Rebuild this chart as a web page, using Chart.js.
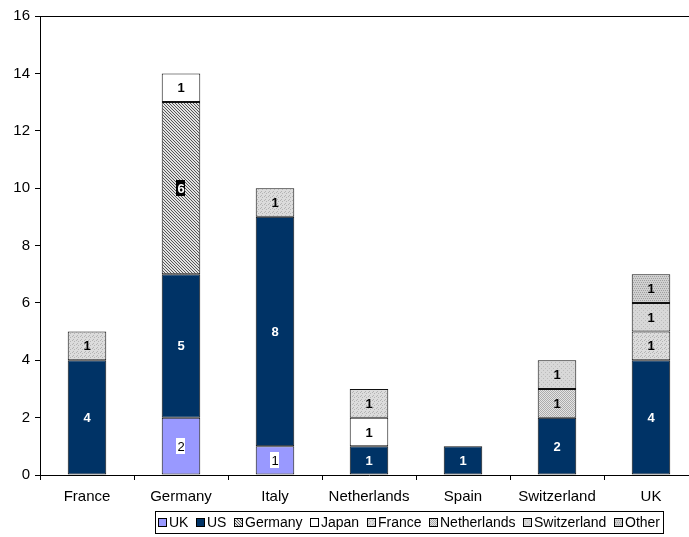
<!DOCTYPE html>
<html>
<head>
<meta charset="utf-8">
<script src="https://cdn.jsdelivr.net/npm/chart.js@4/dist/chart.umd.min.js"></script>
<style>
  html, body { margin: 0; padding: 0; background: #fff; overflow: hidden; }
  #wrap { width: 700px; height: 537px; }
</style>
</head>
<body>
<div id="wrap"><canvas id="c" width="700" height="537"></canvas></div>
<script>
// Deal counts by target country, stacked by acquirer country
const categories = ['France', 'Germany', 'Italy', 'Netherlands', 'Spain', 'Switzerland', 'UK'];
const seriesNames = ['UK', 'US', 'Germany', 'Japan', 'France', 'Netherlands', 'Switzerland', 'Other'];
const ukValues          = [null, 2, 1, null, null, null, null];
const usValues          = [4, 5, 8, 1, 1, 2, 4];
const germanyValues     = [null, 6, null, null, null, null, null];
const japanValues       = [null, 1, null, 1, null, null, null];
const franceValues      = [1, null, 1, 1, null, null, 1];
const netherlandsValues = [null, null, null, null, null, 1, null];
const switzerlandValues = [null, null, null, null, null, 1, 1];
const otherValues       = [null, null, null, null, null, null, 1];
const yTicks = [0, 2, 4, 6, 8, 10, 12, 14, 16];

const FONT = '"Liberation Sans", Arial, sans-serif';
const canvas = document.getElementById('c');
const ctx = canvas.getContext('2d');

// small repeating tile fills
function tile(size, bg, fg, pts) {
  const t = document.createElement('canvas');
  t.width = size; t.height = size;
  const g = t.getContext('2d');
  g.fillStyle = bg; g.fillRect(0, 0, size, size);
  g.fillStyle = fg;
  pts.forEach(p => g.fillRect(p[0], p[1], 1, 1));
  return ctx.createPattern(t, 'repeat');
}
const fills = {
  UK: '#9999ff',
  US: '#003366',
  Germany: tile(3, '#e2e2e2', '#555555', [[0,0],[1,1],[2,2]]),
  Japan: '#ffffff',
  France: tile(4, '#dcdcdc', '#b4b4b4', [[0,0],[2,1],[1,3]]),
  Netherlands: tile(2, '#e4e4e4', '#acacac', [[0,0],[1,1]]),
  Switzerland: tile(4, '#d8d8d8', '#bcbcbc', [[1,0],[3,2]]),
  Other: tile(4, '#d0d0d0', '#a0a0a0', [[0,0],[2,0],[1,2],[3,2]])
};
const valueLists = [ukValues, usValues, germanyValues, japanValues, franceValues,
                    netherlandsValues, switzerlandValues, otherValues];

// label look per series
const labelStyle = {
  UK: { color: '#000', weight: 'normal', bg: '#fff' },
  US: { color: '#fff', weight: 'bold' },
  Germany: { color: '#fff', weight: 'bold', bg: '#000' },
  Japan: { color: '#000', weight: 'bold' },
  France: { color: '#000', weight: 'bold' },
  Netherlands: { color: '#000', weight: 'bold' },
  Switzerland: { color: '#000', weight: 'bold' },
  Other: { color: '#000', weight: 'bold' }
};

const datasets = seriesNames.map((name, i) => ({
  label: name,
  data: valueLists[i],
  backgroundColor: fills[name],
  borderColor: '#111111',
  borderWidth: 1,
  borderSkipped: false,
  categoryPercentage: 1.0,
  barPercentage: 0.41
}));

const segmentLabels = {
  id: 'segmentLabels',
  afterDatasetsDraw(chart) {
    const c = chart.ctx;
    chart.data.datasets.forEach((ds, i) => {
      const st = labelStyle[ds.label];
      chart.getDatasetMeta(i).data.forEach((bar, j) => {
        const v = ds.data[j];
        if (v === null || v === undefined) return;
        const p = bar.getCenterPoint();
        c.save();
        c.font = st.weight + ' 13px ' + FONT;
        c.textAlign = 'center';
        c.textBaseline = 'middle';
        const txt = String(v);
        const w = c.measureText(txt).width;
        if (st.bg) {
          c.fillStyle = st.bg;
          c.fillRect(Math.round(p.x - w / 2 - 1), Math.round(p.y - 8), Math.round(w + 2), 16);
        }
        c.fillStyle = st.color;
        c.fillText(txt, p.x, p.y + 1);
        c.restore();
      });
    });
  }
};

// frame line on top, and the boxed legend under the axis labels
const frameAndLegend = {
  id: 'frameAndLegend',
  afterDraw(chart) {
    const c = chart.ctx;
    const a = chart.chartArea;
    c.save();
    c.strokeStyle = '#000';
    c.lineWidth = 1;
    c.beginPath();
    c.moveTo(a.left, Math.round(a.top) + 0.5);
    c.lineTo(a.right, Math.round(a.top) + 0.5);
    c.stroke();

    c.font = '14px ' + FONT;
    c.textBaseline = 'middle';
    const box = 9, gapBoxText = 2, gapItems = 7.5;
    const widths = chart.data.datasets.map(ds => box + gapBoxText + c.measureText(ds.label).width);
    const total = widths.reduce((s, w) => s + w, 0) + gapItems * (widths.length - 1);
    const left = 155, top = 511, h = 22;
    let x = left + 3;
    const cy = top + h / 2;
    chart.data.datasets.forEach((ds, i) => {
      const bx = Math.round(x);
      c.fillStyle = ds.backgroundColor;
      c.fillRect(bx, cy - 4, box, box);
      c.strokeStyle = '#000';
      c.strokeRect(bx + 0.5, cy - 4 + 0.5, box - 1, box - 1);
      c.fillStyle = '#000';
      c.fillText(ds.label, bx + box + gapBoxText, cy + 1);
      x += widths[i] + gapItems;
    });
    c.strokeStyle = '#000';
    c.strokeRect(left + 0.5, top + 0.5, Math.round(total + 6), h);
    c.restore();
  }
};

new Chart(canvas, {
  type: 'bar',
  data: { labels: categories, datasets },
  options: {
    responsive: false,
    animation: false,
    layout: { padding: { top: 16, right: 2, bottom: 0, left: 0 } },
    plugins: { legend: { display: false }, tooltip: { enabled: false } },
    scales: {
      x: {
        stacked: true,
        offset: true,
        grid: { display: true, drawOnChartArea: false, offset: true, color: '#000', tickLength: 5, tickWidth: 1 },
        border: { display: true, color: '#000', width: 1 },
        ticks: { color: '#000', font: { family: FONT, size: 15 }, padding: 8, maxRotation: 0, autoSkip: false },
        afterFit(s) { s.height = 62; }
      },
      y: {
        stacked: true,
        min: 0,
        max: 16,
        afterBuildTicks(s) { s.ticks = yTicks.map(v => ({ value: v })); },
        grid: { display: true, drawOnChartArea: false, color: '#000', tickLength: 5, tickWidth: 1 },
        border: { display: true, color: '#000', width: 1 },
        ticks: { color: '#000', font: { family: FONT, size: 15 }, padding: 5 },
        afterFit(s) { s.width = 40; }
      }
    }
  },
  plugins: [segmentLabels, frameAndLegend]
});
</script>
</body>
</html>
